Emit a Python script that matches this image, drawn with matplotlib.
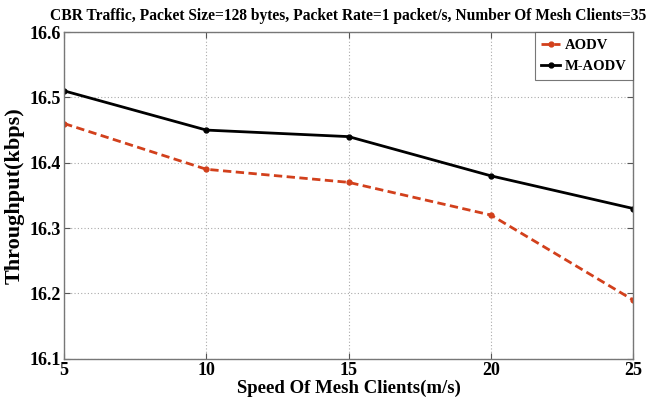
import matplotlib
matplotlib.use("Agg")
import matplotlib.pyplot as plt

speed = [5, 10, 15, 20, 25]
aodv = [16.46, 16.39, 16.37, 16.32, 16.19]
maodv = [16.51, 16.45, 16.44, 16.38, 16.33]
xticks = [5, 10, 15, 20, 25]
yticks = [16.1, 16.2, 16.3, 16.4, 16.5, 16.6]

plt.rcParams["font.family"] = "Liberation Serif"
plt.rcParams["font.weight"] = "bold"

fig = plt.figure(figsize=(6.48, 4.11), dpi=100, facecolor="white")
ax = fig.add_axes([0.099, 0.127, 0.878, 0.795])

ax.plot(speed, aodv, "--", color="#d2401c", lw=2.0, marker="o", ms=3.5,
        dashes=(3, 1.6), label="AODV")
ax.plot(speed, maodv, "-", color="black", lw=2.0, marker="o", ms=3.5,
        label="M-AODV")

ax.set_xlim(5, 25)
ax.set_ylim(16.1, 16.6)
ax.set_xticks(xticks)
ax.set_yticks(yticks)
ax.set_yticklabels([f"{v:.1f}" for v in yticks])
ax.tick_params(direction="in", top=True, right=True, labelsize=13, length=4,
               color="#555555", pad=2)
for s in ax.spines.values():
    s.set_color("#777777")
    s.set_linewidth(1.0)
ax.grid(True, ls=(0, (1, 2)), color="#aaaaaa", lw=0.8)

ax.set_xlabel("Speed Of Mesh Clients(m/s)", fontsize=13.5, fontweight="bold",
              labelpad=1)
ax.set_ylabel("Throughput(kbps)", fontsize=16, fontweight="bold", labelpad=4)
ax.set_title("CBR Traffic, Packet Size=128 bytes, Packet Rate=1 packet/s, "
             "Number Of Mesh Clients=35", fontsize=11.2, fontweight="bold",
             pad=9)

leg = ax.legend(loc="upper right", fontsize=10.5, frameon=True, fancybox=False,
                borderaxespad=0.0, handlelength=1.3, handletextpad=0.3,
                borderpad=0.45, labelspacing=0.55)
leg.get_frame().set_edgecolor("#555555")
leg.get_frame().set_linewidth(0.8)

fig.savefig("out.png", dpi=100)
